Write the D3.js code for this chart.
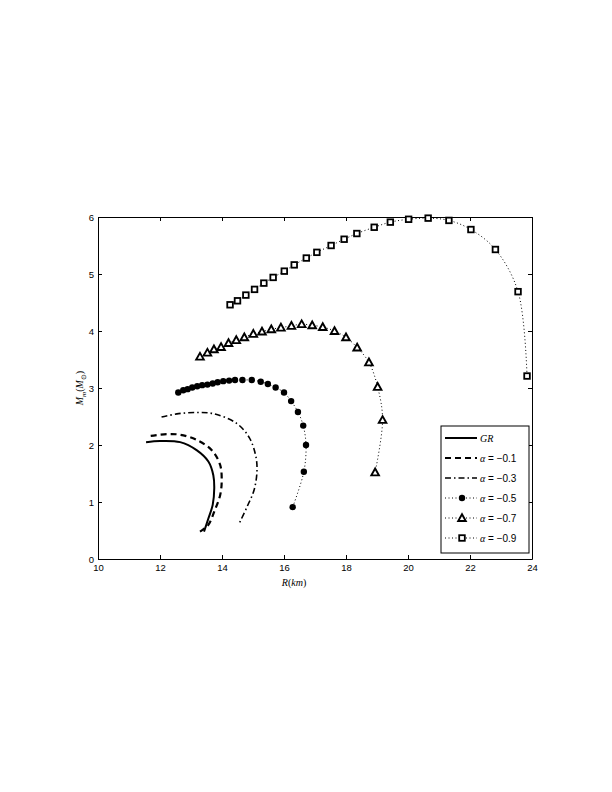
<!DOCTYPE html>
<html>
<head>
<meta charset="utf-8">
<script src="https://cdn.jsdelivr.net/npm/d3@7"></script>
<style>
  body { margin: 0; background: #fff; }
  svg { display: block; }
  .tick text { font-family: "Liberation Sans", Arial, sans-serif; font-size: 9.5px; }
  .math { font-family: "Liberation Serif", serif; font-style: italic; font-size: 10px; }
  .num { font-family: "Liberation Sans", Arial, sans-serif; font-size: 10px; }
</style>
</head>
<body>
<svg id="chart"></svg>
<script>
// R (km) and M (solar masses)
const grR = [11.55, 12.0, 12.65, 13.18, 13.56, 13.72, 13.75, 13.70, 13.56, 13.42]
const grM = [2.05, 2.07, 2.05, 1.91, 1.71, 1.47, 1.24, 0.95, 0.71, 0.48]

const a01R = [11.70, 12.21, 12.65, 13.18, 13.67, 13.94, 13.99, 13.94, 13.77, 13.56, 13.29]
const a01M = [2.16, 2.19, 2.18, 2.09, 1.91, 1.65, 1.36, 1.12, 0.86, 0.60, 0.48]

const a03R = [12.05, 12.6, 13.18, 13.72, 14.47, 14.88, 15.08, 15.13, 15.04, 14.82, 14.57]
const a03M = [2.49, 2.55, 2.57, 2.55, 2.38, 2.13, 1.83, 1.57, 1.22, 0.93, 0.64]

const a05R = [12.59, 12.75, 12.89, 13.04, 13.20, 13.36, 13.53, 13.70, 13.86, 14.04, 14.23, 14.42, 14.66, 14.96, 15.25, 15.48, 15.73, 16.0, 16.23, 16.45, 16.62, 16.71, 16.64, 16.28]
const a05M = [2.92, 2.96, 2.98, 3.01, 3.03, 3.05, 3.06, 3.08, 3.10, 3.12, 3.13, 3.14, 3.14, 3.14, 3.11, 3.07, 3.01, 2.92, 2.77, 2.58, 2.34, 2.00, 1.53, 0.91]

const a07R = [13.29, 13.53, 13.74, 13.97, 14.21, 14.46, 14.72, 15.01, 15.29, 15.59, 15.90, 16.24, 16.57, 16.91, 17.25, 17.63, 18.00, 18.36, 18.74, 19.02, 19.18, 18.94]
const a07M = [3.55, 3.62, 3.68, 3.72, 3.79, 3.84, 3.89, 3.95, 3.99, 4.03, 4.06, 4.09, 4.12, 4.10, 4.07, 4.00, 3.89, 3.71, 3.45, 3.02, 2.44, 1.52]

const a09R = [14.26, 14.50, 14.77, 15.05, 15.35, 15.65, 16.01, 16.33, 16.72, 17.06, 17.52, 17.94, 18.35, 18.91, 19.43, 20.02, 20.65, 21.32, 22.03, 22.82, 23.55, 23.84]
const a09M = [4.46, 4.53, 4.63, 4.73, 4.84, 4.94, 5.05, 5.16, 5.28, 5.38, 5.50, 5.61, 5.71, 5.82, 5.91, 5.96, 5.98, 5.94, 5.78, 5.43, 4.69, 3.21]

const xTicks = [10, 12, 14, 16, 18, 20, 22, 24]
const yTicks = [0, 1, 2, 3, 4, 5, 6]
const labels = ['GR', '−0.1', '−0.3', '−0.5', '−0.7', '−0.9']

const series = [
  {R: grR, M: grM, dash: null, width: 2, marker: null},
  {R: a01R, M: a01M, dash: '6,4', width: 2.2, marker: null},
  {R: a03R, M: a03M, dash: '6,3,1.5,3', width: 1.6, marker: null},
  {R: a05R, M: a05M, dash: '1,2.5', width: 1, marker: 'circle'},
  {R: a07R, M: a07M, dash: '1,2.5', width: 1, marker: 'triangle'},
  {R: a09R, M: a09M, dash: '1,2.5', width: 1, marker: 'square'}
]

const W = 612, H = 792
const mLeft = 98, mRight = 532, mTop = 217, mBottom = 559

const svg = d3.select('#chart').attr('width', W).attr('height', H)

const x = d3.scaleLinear().domain([10, 24]).range([mLeft, mRight])
const y = d3.scaleLinear().domain([0, 6]).range([mBottom, mTop])

// axes with inward ticks, box on
svg.append('g').attr('transform', `translate(0,${mBottom})`)
  .call(d3.axisBottom(x).tickValues(xTicks).tickFormat(d3.format('d')).tickSizeInner(-4).tickSizeOuter(0).tickPadding(5))
svg.append('g').attr('transform', `translate(0,${mTop})`)
  .call(d3.axisTop(x).tickValues(xTicks).tickSizeInner(-4).tickSizeOuter(0).tickFormat(''))
svg.append('g').attr('transform', `translate(${mLeft},0)`)
  .call(d3.axisLeft(y).tickValues(yTicks).tickFormat(d3.format('d')).tickSizeInner(-4).tickSizeOuter(0).tickPadding(4))
svg.append('g').attr('transform', `translate(${mRight},0)`)
  .call(d3.axisRight(y).tickValues(yTicks).tickSizeInner(-4).tickSizeOuter(0).tickFormat(''))
svg.selectAll('.domain').attr('stroke', '#000').attr('stroke-width', 1)
svg.selectAll('.tick line').attr('stroke', '#000')

const line = d3.line().x(d => x(d[0])).y(d => y(d[1])).curve(d3.curveCatmullRom)

function drawMarker(g, kind, cx, cy) {
  if (kind === 'circle') {
    g.append('circle').attr('cx', cx).attr('cy', cy).attr('r', 3.2).attr('fill', '#000')
  } else if (kind === 'triangle') {
    g.append('path')
      .attr('d', `M${cx},${cy - 3.8}L${cx + 3.8},${cy + 3}L${cx - 3.8},${cy + 3}Z`)
      .attr('fill', '#fff').attr('stroke', '#000').attr('stroke-width', 1.9)
  } else if (kind === 'square') {
    g.append('rect').attr('x', cx - 2.8).attr('y', cy - 2.8).attr('width', 5.6).attr('height', 5.6)
      .attr('fill', '#fff').attr('stroke', '#000').attr('stroke-width', 1.8)
  }
}

const plot = svg.append('g')
series.forEach(s => {
  const pts = s.R.map((r, i) => [r, s.M[i]])
  plot.append('path').datum(pts).attr('d', line)
    .attr('fill', 'none').attr('stroke', '#000').attr('stroke-width', s.width)
    .attr('stroke-dasharray', s.dash)
  if (s.marker) pts.forEach(p => drawMarker(plot, s.marker, x(p[0]), y(p[1])))
})

// axis labels
const xl = svg.append('text').attr('x', 294).attr('y', 586).attr('text-anchor', 'middle').attr('class', 'math')
xl.append('tspan').text('R')
xl.append('tspan').attr('font-style', 'normal').text('(')
xl.append('tspan').text('km')
xl.append('tspan').attr('font-style', 'normal').text(')')

const yl = svg.append('text').attr('transform', `translate(83,388) rotate(-90)`)
  .attr('text-anchor', 'middle').attr('class', 'math')
yl.append('tspan').text('M')
yl.append('tspan').attr('font-size', 7).attr('dy', 2.5).text('m')
yl.append('tspan').attr('font-style', 'normal').attr('dy', -2.5).text('(')
yl.append('tspan').text('M')
yl.append('tspan').attr('font-size', 7).attr('font-style', 'normal').attr('dy', 2.5).text('⊙')
yl.append('tspan').attr('font-style', 'normal').attr('dy', -2.5).text(')')

// legend
const lg = svg.append('g')
lg.append('rect').attr('x', 441).attr('y', 426).attr('width', 88).attr('height', 127)
  .attr('fill', '#fff').attr('stroke', '#000').attr('stroke-width', 1)
const rowY = d3.scalePoint().domain(d3.range(labels.length)).range([438, 538])
series.forEach((s, i) => {
  const yy = rowY(i)
  lg.append('line').attr('x1', 445).attr('x2', 477).attr('y1', yy).attr('y2', yy)
    .attr('stroke', '#000').attr('stroke-width', s.width).attr('stroke-dasharray', s.dash)
  if (s.marker) drawMarker(lg, s.marker, 462, yy)
  const t = lg.append('text').attr('x', 480).attr('y', yy + 3.5).attr('class', 'math')
  if (i === 0) {
    t.text(labels[i])
  } else {
    t.append('tspan').text('α')
    t.append('tspan').attr('class', 'num').attr('font-style', 'normal').text(' = ' + labels[i])
  }
})
</script>
</body>
</html>
